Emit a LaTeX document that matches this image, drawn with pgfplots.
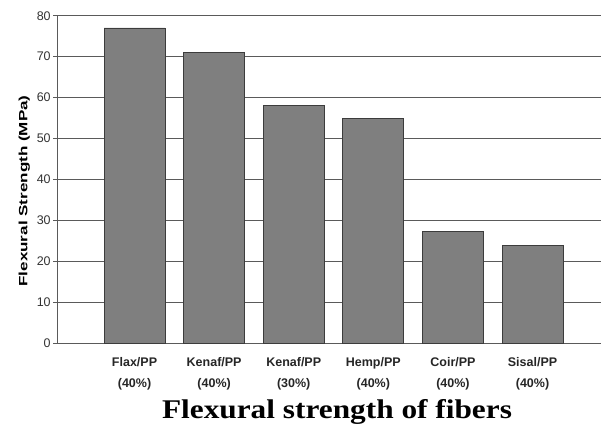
\documentclass[border=0pt]{standalone}
\usepackage{pgfplots}
\pgfplotsset{compat=1.18}
\usepackage{fontspec}
\setmainfont{Liberation Sans}
\newfontfamily\titlefont{Liberation Serif}
\usepackage{graphicx}
\definecolor{barfill}{HTML}{7F7F7F}
\definecolor{baredge}{HTML}{3C3C3C}
\definecolor{gridc}{HTML}{5A5A5A}
\begin{document}
\begin{tikzpicture}[x=1bp,y=1bp]
\useasboundingbox (0,0) rectangle (601,423);
\begin{axis}[
    at={(57.7bp,79.7bp)}, anchor=south west,
    scale only axis,
    width=543.3bp, height=327.6bp,
    xmin=-0.965, xmax=5.86,
    ymin=0, ymax=80,
    ytick={0,10,...,80},
    xtick={0,1,2,3,4,5},
    xticklabels={Flax/PP\\[8.5bp](40\%),Kenaf/PP\\[8.5bp](40\%),Kenaf/PP\\[8.5bp](30\%),Hemp/PP\\[8.5bp](40\%),Coir/PP\\[8.5bp](40\%),Sisal/PP\\[8.5bp](40\%)},
    xticklabel style={align=center, font=\fontsize{12.5bp}{13bp}\selectfont\bfseries, text=black!85, yshift=-6bp},
    yticklabel style={font=\fontsize{12.5bp}{14bp}\selectfont, text=black!80, xshift=1bp},
    /pgf/number format/assume math mode=true,
    axis x line*=bottom,
    axis y line*=left,
    axis line style={gridc, line width=1.1pt},
    ymajorgrids,
    major grid style={gridc, line width=1.3pt},
    major x tick style={draw=none},
    major y tick style={gridc, line width=1.3pt},
    tick align=outside,
    major tick length=4.5bp,
    ylabel={\scalebox{1.42}[1]{\bfseries Flexural Strength (MPa)}},
    ylabel style={font=\fontsize{12bp}{14bp}\selectfont},
    every axis y label/.append style={at={(ticklabel cs:0.465)}},
    clip=false,
]
\addplot[ybar, bar width=61bp, fill=barfill, draw=baredge, line width=0.9pt]
coordinates {(0,77) (1,71.1) (2,58) (3,55) (4,27.2) (5,23.9)};
\end{axis}
\node[font=\titlefont\fontsize{27bp}{30bp}\selectfont\bfseries, anchor=base, inner sep=0pt] at (337,4.7) {\scalebox{1.16}[1]{Flexural strength of fibers}};
\end{tikzpicture}
\end{document}
